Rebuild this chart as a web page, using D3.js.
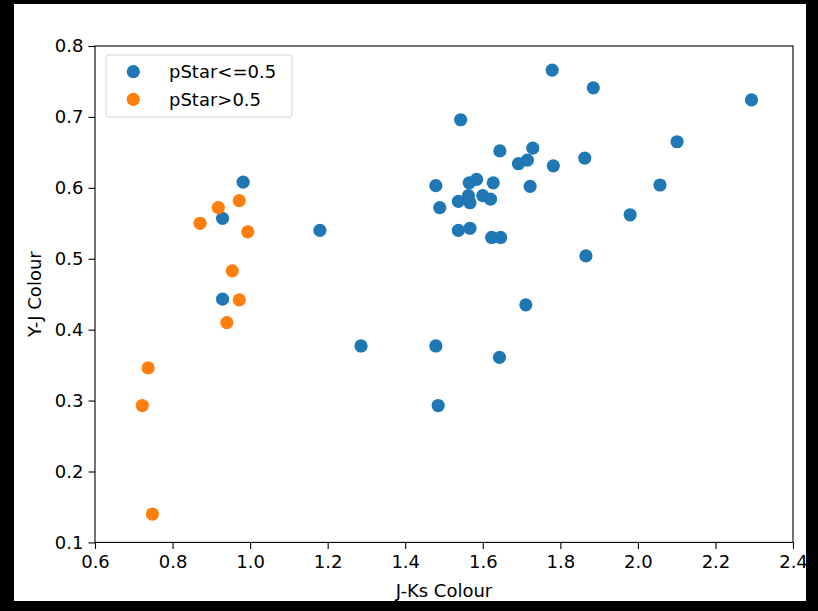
<!DOCTYPE html>
<html lang="en">
<head>
    <meta charset="UTF-8">
    <title>Y-J vs J-Ks colour</title>
    <script src="https://d3js.org/d3.v7.min.js"></script>
    <style>
        body, html {
            margin: 0;
            padding: 0;
            background: #000;
        }
        svg { display: block; }
        text { font-family: "DejaVu Sans", sans-serif; fill: #000; }
    </style>
</head>
<body>
    <script>
        // Data (J-Ks colour, Y-J colour)
        const lowJK = [0.982, 0.929, 0.929, 1.180, 1.286, 1.543, 1.479, 1.489, 1.537, 1.563,
                       1.567, 1.565, 1.584, 1.600, 1.620, 1.627, 1.537, 1.567, 1.623, 1.646,
                       1.644, 1.692, 1.715, 1.729, 1.722, 1.779, 1.782, 1.885, 1.863, 1.866,
                       1.980, 2.057, 2.101, 2.293, 1.711, 1.479, 1.643, 1.485];
        const lowYJ = [0.608, 0.557, 0.443, 0.540, 0.377, 0.696, 0.603, 0.572, 0.581, 0.589,
                       0.579, 0.607, 0.612, 0.589, 0.584, 0.607, 0.540, 0.543, 0.530, 0.530,
                       0.652, 0.634, 0.639, 0.656, 0.602, 0.766, 0.631, 0.741, 0.642, 0.504,
                       0.562, 0.604, 0.665, 0.724, 0.435, 0.377, 0.361, 0.293];
        const highJK = [0.972, 0.918, 0.871, 0.994, 0.954, 0.972, 0.940, 0.737, 0.722, 0.748];
        const highYJ = [0.582, 0.572, 0.550, 0.538, 0.483, 0.442, 0.410, 0.346, 0.293, 0.140];

        const xTicks = [0.6, 0.8, 1.0, 1.2, 1.4, 1.6, 1.8, 2.0, 2.2, 2.4];
        const yTicks = [0.1, 0.2, 0.3, 0.4, 0.5, 0.6, 0.7, 0.8];
        const seriesNames = ["pStar<=0.5", "pStar>0.5"];
        const colors = ["#1f77b4", "#ff7f0e"];

        const width = 818, height = 611;
        const plotLeft = 95, plotRight = 793, plotTop = 46, plotBottom = 542.4;
        const fontSize = "18px";

        const svg = d3.select("body").append("svg")
            .attr("width", width)
            .attr("height", height);

        // white figure area inside the black frame
        svg.append("rect")
            .attr("x", 14).attr("y", 4)
            .attr("width", 792).attr("height", 597)
            .attr("fill", "#fff");

        const x = d3.scaleLinear().domain([0.6, 2.4]).range([plotLeft, plotRight]);
        const y = d3.scaleLinear().domain([0.1, 0.8]).range([plotBottom, plotTop]);

        const fmt = d3.format(".1f");

        const gx = svg.append("g")
            .attr("transform", `translate(0,${plotBottom})`)
            .call(d3.axisBottom(x).tickValues(xTicks).tickFormat(fmt).tickSize(6.5).tickSizeOuter(0).tickPadding(6));
        const gy = svg.append("g")
            .attr("transform", `translate(${plotLeft},0)`)
            .call(d3.axisLeft(y).tickValues(yTicks).tickFormat(fmt).tickSize(6.5).tickSizeOuter(0).tickPadding(5));

        [gx, gy].forEach(g => {
            g.select(".domain").remove();
            g.selectAll(".tick line").attr("stroke", "#000").attr("stroke-width", 1.1);
            g.selectAll(".tick text").attr("font-size", fontSize).attr("fill", "#000")
                .style("font-family", "DejaVu Sans, sans-serif");
        });

        // points
        const low = lowJK.map((v, i) => ({ x: v, y: lowYJ[i] }));
        const high = highJK.map((v, i) => ({ x: v, y: highYJ[i] }));

        [low, high].forEach((pts, k) => {
            svg.append("g").selectAll("circle")
                .data(pts)
                .enter()
                .append("circle")
                .attr("cx", d => x(d.x))
                .attr("cy", d => y(d.y))
                .attr("r", 6.6)
                .attr("fill", colors[k]);
        });

        // spines
        svg.append("rect")
            .attr("x", plotLeft).attr("y", plotTop)
            .attr("width", plotRight - plotLeft).attr("height", plotBottom - plotTop)
            .attr("fill", "none")
            .attr("stroke", "#000")
            .attr("stroke-width", 1.1);

        // axis labels
        svg.append("text")
            .attr("x", (plotLeft + plotRight) / 2)
            .attr("y", 597)
            .attr("text-anchor", "middle")
            .attr("font-size", fontSize)
            .text("J-Ks Colour");

        svg.append("text")
            .attr("transform", `translate(40.5,${(plotTop + plotBottom) / 2}) rotate(-90)`)
            .attr("text-anchor", "middle")
            .attr("font-size", fontSize)
            .text("Y-J Colour");

        // legend
        const lg = svg.append("g");
        lg.append("rect")
            .attr("x", 106).attr("y", 55)
            .attr("width", 186).attr("height", 62)
            .attr("rx", 3)
            .attr("fill", "#fff").attr("fill-opacity", 0.8)
            .attr("stroke", "#d4d4d4").attr("stroke-width", 1);

        seriesNames.forEach((name, i) => {
            const cy = 71.7 + i * 27.6;
            lg.append("circle")
                .attr("cx", 133.3).attr("cy", cy)
                .attr("r", 6.6)
                .attr("fill", colors[i]);
            lg.append("text")
                .attr("x", 169)
                .attr("y", cy)
                .attr("dy", "0.35em")
                .attr("font-size", fontSize)
                .text(name);
        });
    </script>
</body>
</html>
